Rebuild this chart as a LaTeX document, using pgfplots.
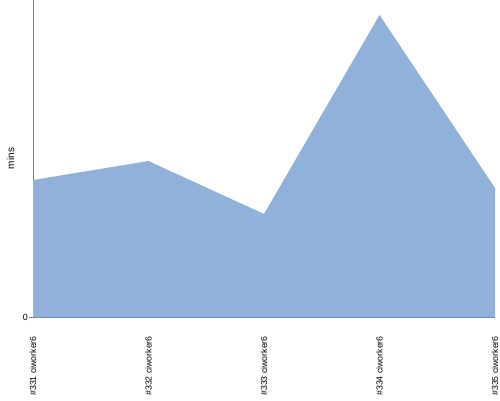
\documentclass[border=0pt]{standalone}
\usepackage{fontspec}
\setmainfont{Liberation Sans}
\usepackage{pgfplots}
\pgfplotsset{compat=1.18}
\definecolor{areafill}{HTML}{8FB1DA}
\definecolor{baseline}{HTML}{7388A6}
\begin{document}
\begin{tikzpicture}[x=1bp,y=1bp]
\useasboundingbox (0,0) rectangle (500,400);
\begin{axis}[
  at={(33bp,83bp)}, anchor=south west,
  scale only axis, width=462bp, height=317bp,
  xmin=0, xmax=4, ymin=0, ymax=317,
  axis x line*=bottom, axis y line*=left,
  x axis line style={draw=baseline, -},
  y axis line style={draw=gray, -},
  xtick={0,1,2,3,4},
  xticklabels={\#331 ciworker6,\#332 ciworker6,\#333 ciworker6,\#334 ciworker6,\#335 ciworker6},
  xticklabel style={rotate=90, anchor=east, font=\fontsize{8.8}{10}\selectfont, inner sep=0pt},
  xticklabel shift={15bp},
  xtick style={draw=none},
  ytick={0},
  /pgf/number format/assume math mode=true,
  yticklabel style={font=\fontsize{9}{10}\selectfont, inner sep=1pt},
  ytick style={draw=gray},
  tick align=outside, major tick length=4bp,
  ylabel={mins}, ylabel style={font=\fontsize{9.5}{10}\selectfont},
  every axis y label/.style={at={(ticklabel cs:0.5,4bp)}, rotate=90, anchor=near ticklabel},
  clip=false,
]
\addplot[fill=areafill, draw=none] coordinates {(0,137) (1,156) (2,103) (3,302) (4,129)} \closedcycle;
\end{axis}
\end{tikzpicture}
\end{document}
